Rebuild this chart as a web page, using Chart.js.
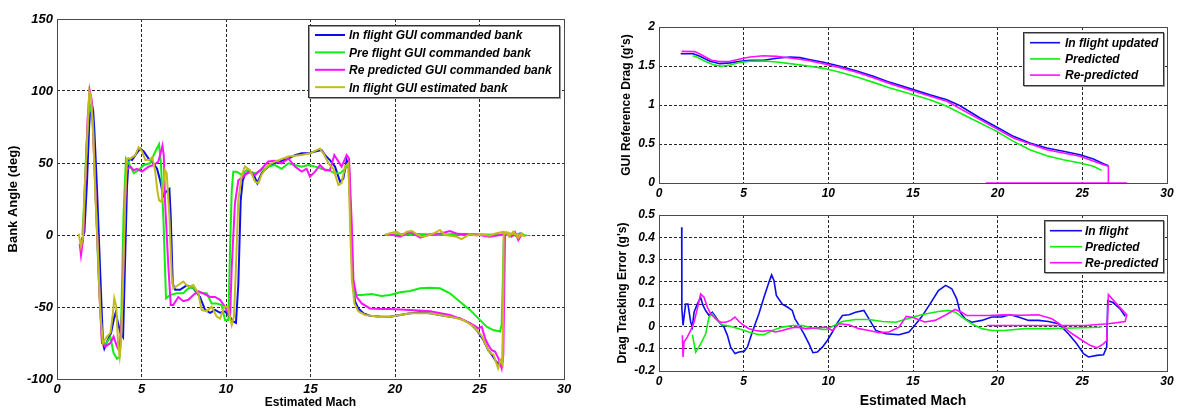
<!DOCTYPE html>
<html>
<head>
<meta charset="utf-8">
<script src="https://cdn.jsdelivr.net/npm/chart.js@4.4.1/dist/chart.umd.min.js"></script>
<style>
  html, body { margin: 0; padding: 0; background: #fff; width: 1178px; height: 410px; overflow: hidden; }
  canvas { position: absolute; }
</style>
</head>
<body>
<canvas id="bank" width="590" height="410" style="left:0;top:0"></canvas>
<canvas id="drag" width="588" height="200" style="left:590px;top:0"></canvas>
<canvas id="err" width="588" height="210" style="left:590px;top:200px"></canvas>
<script>
// ---------- Tick labels ----------
const machTicks = [0, 5, 10, 15, 20, 25, 30];
const bankTicks = [-100, -50, 0, 50, 100, 150];
const dragTicks = [0, 0.5, 1, 1.5, 2];
const errTicks = [-0.2, -0.1, 0, 0.1, 0.2, 0.3, 0.4, 0.5];

// ---------- Bank angle (deg) vs estimated Mach ----------
const cmdInflightMach = [1.45,1.62,1.78,1.9,1.97,2.07,2.14,2.21,2.37,2.56,2.72,2.8,3.0,3.2,3.39,3.47,3.55,3.75,3.91,4.0,4.14,4.24,4.44,4.73,4.93,5.13,5.42,5.62,5.92,6.1,6.29,6.45,6.65,6.73,6.85,6.99,7.28,7.67,8.07,8.46,8.76,9.06,9.35,9.65,9.94,10.24,10.43,10.59,10.73,10.87,10.99,11.12,11.42,11.6,11.85,12.11,12.5,12.9,13.29,13.69,14.08,14.48,14.87,15.27,15.66,15.86,16.15,16.45,16.75,16.94,17.14,17.28,17.38,17.48,17.63,17.83,18.13,18.52,19.2,19.7,20.3,20.9,21.48,22.07,22.66,23.25,23.84,24.44,24.83,25.23,25.52,25.72,26.0,26.21,26.37,26.45,26.6,26.8,27.0,27.2,27.4,27.55,27.0,25.5,24.0,22.5,21.0,19.4];
const cmdInflightBank = [-4,2,38,75,89,91,86,73,31,-27,-75,-79,-73,-68,-57,-54,-58,-68,-71,-31,33,53,52,57,60,58,53,51,46,38,27,30,32,13,-34,-38,-38,-35,-37,-43,-52,-54,-52,-54,-53,-57,-60,-61,-34,24,38,42,44,43,36,43,47.5,50,51.6,53,55.5,56.7,56.7,58,59,55.5,52,47.5,37,39,52,47.5,8,-31,-46,-51,-54.4,-56,-56.7,-56.7,-55.5,-54.4,-53.7,-54.4,-55.5,-56.7,-57.9,-61.3,-66,-72.9,-80,-83,-88,-90,-88,0,1,-1,1.5,-1,1,0,0.5,0,0.5,0,0.5,0];

const cmdPreflightMach = [1.5,1.58,1.74,1.87,1.97,2.05,2.13,2.27,2.47,2.66,2.86,3.16,3.35,3.55,3.71,3.81,3.94,4.08,4.24,4.54,4.83,5.13,5.5,5.82,6.04,6.15,6.3,6.45,6.69,7.08,7.47,7.67,7.97,8.26,8.56,8.86,9.15,9.45,9.74,9.94,10.14,10.24,10.34,10.43,10.63,10.93,11.22,11.72,12.11,12.5,12.9,13.29,13.69,14.08,14.48,14.87,15.27,15.66,16.06,16.45,16.75,17.04,17.24,17.4,17.5,17.63,18.03,18.62,19.2,19.7,20.3,20.9,21.48,22.07,22.66,23.25,23.84,24.44,24.93,25.42,25.82,26.21,26.31,26.45,26.7,27.0,27.3,27.6,27.0,25.0,23.0,21.0,19.4];
const cmdPreflightBank = [0,17,61,84.5,89,85,77,31,-31,-73,-76,-71,-82,-86,-84.5,-54,15,53,50,43,45,48.6,49.8,58,63,50,10,-44,-41.7,-40.5,-40.5,-38,-36,-39,-40.5,-40.5,-47.5,-47.5,-48.6,-59,-59,-10,31,44,44,41.7,45,42.8,45,47.5,48.6,46,49.8,48.6,47.5,48.6,47.5,46,45,42.8,42.8,46,48.6,8,-31,-41.7,-41.7,-41,-42.4,-41.7,-39.8,-38.9,-37,-36.6,-37,-40.5,-46.3,-52,-57.9,-63.7,-66,-67,-62.5,0,0.5,-0.5,0.8,0,0,0.3,0,0.3,0];

const cmdRepredMach = [1.34,1.42,1.54,1.68,1.81,1.93,2.05,2.17,2.33,2.52,2.66,2.86,3.16,3.35,3.55,3.71,3.85,3.98,4.1,4.34,4.54,4.73,5.03,5.42,5.72,6.0,6.24,6.32,6.39,6.59,6.73,6.88,7.18,7.47,7.77,8.07,8.36,8.66,9.06,9.35,9.65,9.94,10.24,10.34,10.53,10.73,11.03,11.32,11.72,12.11,12.5,12.9,13.29,13.69,14.08,14.48,14.77,14.97,15.27,15.56,15.86,16.15,16.41,16.6,16.84,17.14,17.28,17.44,17.54,17.73,18.03,18.52,19.2,19.7,20.9,22.07,23.25,24.04,24.64,24.93,25.13,25.33,25.52,25.72,25.92,26.12,26.31,26.41,26.51,26.7,26.9,27.1,27.3,27.5,27.2,26.5,25.6,25.0,24.2,23.7,23.25,22.7,22.07,21.5,20.9,20.3,19.7,19.4];
const cmdRepredBank = [-6,-14,-3.5,38,80,100.7,94,61,15,-43,-75,-77.5,-75,-70.6,-77.5,-81,-54,3.5,45,47.5,45,46,44,47.5,48.6,51,62,55,24,-22,-48.6,-48.6,-43,-46,-45,-41.7,-39,-40.5,-43,-43,-45,-49.8,-56.7,-22,22,38,40.5,44,41.7,46,51,51.6,49.8,53,47.5,44,46,40.5,44,48.6,45,45,55.5,52,47.5,55.5,53,8,-31,-43,-47.5,-51,-51.4,-51.4,-52,-53,-55.5,-59,-62.5,-64.8,-63.7,-71.8,-76.4,-80,-81,-85.6,-92.6,-83,0,1.5,-1,2,-3.5,0.5,0,0.5,-1.2,0,0.5,0.8,2.8,1,0.5,-1.9,2.3,-1.2,0.5,0];

const estInflightMach = [1.28,1.42,1.54,1.62,1.78,1.91,2.01,2.13,2.27,2.41,2.56,2.72,2.92,3.16,3.31,3.39,3.51,3.61,3.71,3.79,3.91,4.04,4.14,4.34,4.63,4.83,5.03,5.23,5.45,5.64,5.8,5.95,6.04,6.18,6.3,6.39,6.49,6.65,6.79,6.88,7.18,7.47,7.77,8.07,8.36,8.56,8.86,9.15,9.45,9.65,9.9,10.1,10.34,10.47,10.59,10.73,10.93,11.12,11.42,11.72,11.92,12.11,12.5,12.9,13.69,14.48,14.97,15.37,15.56,15.76,16.06,16.35,16.65,16.84,17.04,17.24,17.34,17.45,17.6,17.83,18.23,19.2,19.7,20.9,22.07,23.25,24.04,24.64,25.13,25.42,25.62,25.82,26.0,26.1,26.24,26.37,26.43,26.6,26.75,27.0,27.15,27.3,27.5,27.6,27.2,26.8,26.4,26.0,25.6,25.2,24.8,24.4,23.94,23.65,23.25,22.95,22.66,22.3,21.9,21.6,21.3,21.0,20.7,20.4,20.1,19.7,19.4];
const estInflightBank = [1,-8,-1,27,66,99.5,96,73,27,-8,-54,-75,-71,-68,-54,-44,-50,-75,-84.5,-75,-31,27,53,53,55.5,61,58,52,52,54,45,30,24,23,35,45,43,13,-29,-37,-34.7,-32.4,-36,-34.7,-40.5,-52,-53,-49.8,-56.7,-58,-49.8,-49.8,-62.5,-56.7,-22,24,41.7,47.5,45,37,36,42,48.6,51,54.5,55.5,56.7,59,60,56.7,49.8,46,34.7,36,47.5,49.8,8,-31,-47.5,-53,-55.5,-57,-56.7,-54.4,-54.4,-56.7,-59,-63.5,-70,-77.5,-82,-83,-89,-92.6,-87,-90,0,2,-1,2.3,0,-1.9,1.2,-0.5,0.5,1,2.3,1.2,-0.5,0.3,-0.3,0.5,-2.8,-1.2,-0.5,0,3.5,1.2,-0.5,-1.2,0.5,2.8,2.3,0,2.3,1.2,0];

// ---------- GUI reference drag (g's) vs estimated Mach ----------
const dragInflightMach = [1.28,2.03,2.42,3.01,3.6,4.2,4.79,5.38,6.17,6.95,7.74,8.33,8.92,9.71,10.69,11.68,12.66,13.65,15.02,16.0,17.0,17.78,18.96,20.04,20.93,21.9,22.9,23.88,24.86,25.65,26.25,26.54];
const dragInflight = [1.658,1.658,1.624,1.56,1.53,1.54,1.56,1.573,1.573,1.6,1.615,1.607,1.58,1.547,1.496,1.436,1.368,1.29,1.197,1.13,1.068,0.99,0.833,0.705,0.598,0.513,0.449,0.406,0.363,0.308,0.248,0.222];

const dragPredMach = [1.99,2.23,2.72,3.21,3.7,4.2,4.79,5.38,6.17,6.95,7.74,8.72,9.71,10.69,11.68,12.66,13.65,15.02,16.0,17.0,17.98,18.96,19.95,20.93,21.9,22.9,23.88,24.86,25.65,26.15];
const dragPred = [1.632,1.615,1.56,1.517,1.496,1.513,1.547,1.56,1.564,1.551,1.53,1.504,1.47,1.419,1.359,1.29,1.218,1.132,1.068,0.983,0.876,0.769,0.662,0.534,0.427,0.35,0.299,0.256,0.214,0.162];

const dragRepredMach = [1.33,2.12,2.5,3.1,3.6,4.2,4.79,5.38,6.17,6.95,7.74,8.72,9.71,10.69,11.68,12.66,13.65,15.02,17.0,18.96,20.93,22.9,24.86,26.25,26.54,26.54,27.63,19.3];
const dragRepred = [1.688,1.684,1.645,1.573,1.556,1.56,1.59,1.615,1.632,1.624,1.603,1.573,1.53,1.479,1.419,1.35,1.274,1.18,1.047,0.812,0.577,0.427,0.342,0.235,0.214,0,0,0];

// ---------- Drag tracking error (g's) vs estimated Mach ----------
const errInflightMach = [1.34,1.35,1.42,1.57,1.71,1.87,1.97,2.07,2.26,2.46,2.6,2.76,2.95,3.15,3.35,3.54,3.84,4.04,4.23,4.49,4.72,5.02,5.22,5.51,5.9,6.2,6.5,6.65,6.79,6.93,7.28,7.58,7.87,8.03,8.27,8.56,8.86,9.09,9.35,9.65,9.94,10.24,10.53,10.83,11.22,11.61,12.1,12.4,12.8,13.39,14.17,14.76,15.02,15.5,16.0,16.5,16.93,17.29,17.58,17.78,18.08,18.47,19.06,19.65,20.24,20.73,21.23,21.82,22.41,23.0,23.59,24.18,24.67,25.07,25.36,25.86,26.25,26.44,26.5,26.84,27.23,27.53];
const errInflight = [0.445,0.08,0.005,0.1,0.1,0.02,-0.003,0.064,0.1,0.13,0.094,0.07,0.05,0.064,0.042,0.02,-0.003,-0.04,-0.093,-0.122,-0.115,-0.112,-0.093,-0.025,0.057,0.131,0.2,0.231,0.206,0.139,0.1,0.087,0.072,0.034,0.005,-0.033,-0.078,-0.118,-0.115,-0.093,-0.063,-0.025,0.016,0.049,0.052,0.064,0.072,0.034,-0.018,-0.033,-0.037,-0.025,-0.003,0.042,0.1,0.161,0.184,0.169,0.124,0.064,0.034,0.019,0.027,0.042,0.042,0.052,0.042,0.027,0.027,0.022,0.012,-0.033,-0.078,-0.122,-0.137,-0.13,-0.127,-0.093,0.116,0.106,0.079,0.046];

const errPredMach = [1.97,2.17,2.46,2.76,2.95,3.15,3.44,3.74,4.13,4.72,5.31,5.9,6.2,6.69,7.28,7.87,8.46,9.06,9.65,9.94,10.33,10.83,11.61,12.4,13.19,13.98,14.53,15.5,16.5,17.1,17.5,17.98,18.47,19.06,19.65,20.4,21.6,23.0,24.4,26.0,26.15];
const errPred = [-0.037,-0.115,-0.078,-0.033,0.042,0.057,0.027,0.007,0.0015,-0.01,-0.025,-0.037,-0.037,-0.018,-0.003,0.004,0.004,-0.007,-0.013,-0.013,0.004,0.022,0.031,0.031,0.022,0.019,0.031,0.052,0.067,0.072,0.064,0.037,0.012,-0.01,-0.018,-0.018,-0.01,-0.01,-0.007,-0.004,0];

const errRepredMach = [1.38,1.42,1.48,1.67,1.87,2.07,2.26,2.46,2.66,2.85,3.05,3.35,3.64,3.94,4.23,4.49,4.72,5.02,5.31,5.71,6.1,6.5,6.89,7.28,7.78,8.17,8.66,9.25,9.84,10.24,10.63,11.22,11.8,12.4,13.0,13.58,14.17,14.6,15.0,15.7,16.3,16.9,17.48,17.87,18.17,18.47,19.45,20.4,21.4,22.4,23.2,23.8,24.4,25.0,25.46,25.86,26.25,26.44,26.54,26.93,27.62,27.53,26.54,25.16,19.35];
const errRepred = [-0.04,-0.137,-0.07,-0.048,-0.018,0.019,0.079,0.146,0.131,0.087,0.057,0.034,0.019,0.019,0.027,0.042,0.022,0.004,-0.01,-0.018,-0.022,-0.018,-0.025,-0.018,-0.007,-0.003,-0.01,-0.007,-0.003,-0.018,0.012,0.007,-0.01,-0.018,-0.028,-0.025,-0.003,0.045,0.04,0.02,0.027,0.05,0.076,0.064,0.049,0.049,0.049,0.052,0.05,0.052,0.034,0.004,-0.033,-0.063,-0.085,-0.096,-0.078,-0.063,0.143,0.109,0.052,0.022,0.012,0.004,0.004];

// ---------- Styling ----------
const FONT = "'Liberation Sans', Arial, Helvetica, sans-serif";
const BLUE = '#0c0cf0', GREEN = '#10ee10', MAGENTA = '#ff10ff', OLIVE = '#c2bb1c';

const pts = (xs, ys) => xs.map((x, i) => ({ x, y: ys[i] }));

// Axes box + legend panel drawn over the plotted lines
const framePlugin = {
  id: 'frameLegend',
  afterDatasetsDraw(chart, args, opts) {
    const { ctx, chartArea: a } = chart;
    ctx.save();
    ctx.strokeStyle = '#4a4a4a';
    ctx.lineWidth = 1;
    ctx.strokeRect(Math.round(a.left) + 0.5, Math.round(a.top) + 0.5,
                   Math.round(a.right - a.left), Math.round(a.bottom - a.top));
    const L = opts.legend;
    if (L) {
      ctx.fillStyle = '#fff';
      ctx.fillRect(L.x, L.y, L.w, L.h);
      ctx.strokeStyle = '#9a9a9a';
      ctx.strokeRect(L.x + 1.5, L.y + 1.5, L.w, L.h);
      ctx.strokeStyle = '#333';
      ctx.strokeRect(L.x + 0.5, L.y + 0.5, L.w, L.h);
      ctx.font = L.font;
      ctx.textBaseline = 'middle';
      ctx.textAlign = 'left';
      chart.data.datasets.forEach((ds, i) => {
        const y = L.rowY + i * L.rowH;
        ctx.strokeStyle = ds.borderColor;
        ctx.lineWidth = ds.borderWidth;
        ctx.beginPath();
        ctx.moveTo(L.lineX0, y);
        ctx.lineTo(L.lineX1, y);
        ctx.stroke();
        ctx.fillStyle = '#000';
        ctx.fillText(ds.label, L.textX, y + 1);
      });
    }
    ctx.restore();
  }
};

function series(label, xs, ys, color, width, order) {
  return {
    label, data: pts(xs, ys), borderColor: color, backgroundColor: color,
    borderWidth: width, pointRadius: 0, tension: 0, fill: false, order
  };
}

function axis(cfg) {
  const tickFont = { family: FONT, size: cfg.tickSize, weight: 'bold', style: 'italic' };
  const o = {
    type: 'linear', min: cfg.min, max: cfg.max,
    afterBuildTicks: s => { s.ticks = cfg.ticks.map(v => ({ value: v })); },
    ticks: { font: tickFont, color: '#000', padding: cfg.pad, autoSkip: false, maxRotation: 0,
             callback: v => String(Math.round(v * 100) / 100) },
    grid: { color: 'rgba(0,0,0,0.85)', lineWidth: 1, drawTicks: false },
    border: { display: false, dash: [3, 2] },
    afterFit: s => { if (cfg.width != null) s.width = cfg.width; if (cfg.height != null) s.height = cfg.height; }
  };
  if (cfg.title) {
    o.title = { display: true, text: cfg.title, color: '#000',
                font: { family: FONT, size: cfg.titleSize, weight: 'bold' },
                padding: cfg.titlePad };
  }
  return o;
}

function baseOptions(padding, scales, legend) {
  return {
    responsive: false, animation: false, events: [],
    layout: { padding },
    plugins: { legend: { display: false }, tooltip: { enabled: false }, frameLegend: { legend } },
    scales
  };
}

// Left panel: bank angle
new Chart(document.getElementById('bank'), {
  type: 'line',
  data: { datasets: [
    series('In flight GUI commanded bank', cmdInflightMach, cmdInflightBank, BLUE, 2, 3),
    series('Pre flight GUI commanded bank', cmdPreflightMach, cmdPreflightBank, GREEN, 2, 2),
    series('Re predicted GUI commanded bank', cmdRepredMach, cmdRepredBank, MAGENTA, 2, 1),
    series('In flight GUI estimated bank', estInflightMach, estInflightBank, OLIVE, 2, 0)
  ] },
  options: baseOptions({ left: 0, right: 26, top: 19, bottom: 0 }, {
    x: axis({ min: 0, max: 30, ticks: machTicks, tickSize: 13, pad: 3, height: 31,
              title: 'Estimated Mach', titleSize: 12, titlePad: { top: 0, bottom: 0 } }),
    y: axis({ min: -100, max: 150, ticks: bankTicks, tickSize: 13, pad: 4, width: 57,
              title: 'Bank Angle (deg)', titleSize: 13, titlePad: { top: 6, bottom: 0 } })
  }, { x: 308, y: 25, w: 251, h: 72, rowY: 35, rowH: 17.4, lineX0: 315, lineX1: 345, textX: 349,
       font: `italic bold 12px ${FONT}` }),
  plugins: [framePlugin]
});

// Upper right panel: reference drag
new Chart(document.getElementById('drag'), {
  type: 'line',
  data: { datasets: [
    series('In flight updated', dragInflightMach, dragInflight, BLUE, 1.6, 2),
    series('Predicted', dragPredMach, dragPred, GREEN, 1.6, 1),
    series('Re-predicted', dragRepredMach, dragRepred, MAGENTA, 1.6, 0)
  ] },
  options: baseOptions({ left: 0, right: 11, top: 27, bottom: 0 }, {
    x: axis({ min: 0, max: 30, ticks: machTicks, tickSize: 12, pad: 3, height: 17 }),
    y: axis({ min: 0, max: 2, ticks: dragTicks, tickSize: 12, pad: 4, width: 69,
              title: "GUI Reference Drag (g's)", titleSize: 12, titlePad: { top: 29, bottom: 0 } })
  }, { x: 433, y: 32, w: 140, h: 53, rowY: 42.7, rowH: 16.2, lineX0: 440, lineX1: 470, textX: 475,
       font: `italic bold 12px ${FONT}` }),
  plugins: [framePlugin]
});

// Lower right panel: drag tracking error
new Chart(document.getElementById('err'), {
  type: 'line',
  data: { datasets: [
    series('In flight', errInflightMach, errInflight, BLUE, 1.6, 2),
    series('Predicted', errPredMach, errPred, GREEN, 1.6, 1),
    series('Re-predicted', errRepredMach, errRepred, MAGENTA, 1.6, 0)
  ] },
  options: baseOptions({ left: 0, right: 11, top: 15, bottom: 0 }, {
    x: axis({ min: 0, max: 30, ticks: machTicks, tickSize: 12, pad: 3, height: 39,
              title: 'Estimated Mach', titleSize: 14, titlePad: { top: 0, bottom: 0 } }),
    y: axis({ min: -0.2, max: 0.5, ticks: errTicks, tickSize: 12, pad: 4, width: 69,
              title: "Drag Tracking Error (g's)", titleSize: 12, titlePad: { top: 25, bottom: 0 } })
  }, { x: 454, y: 20, w: 119, h: 52, rowY: 30.7, rowH: 16, lineX0: 460, lineX1: 492, textX: 495,
       font: `italic bold 12px ${FONT}` }),
  plugins: [framePlugin]
});
</script>
</body>
</html>
